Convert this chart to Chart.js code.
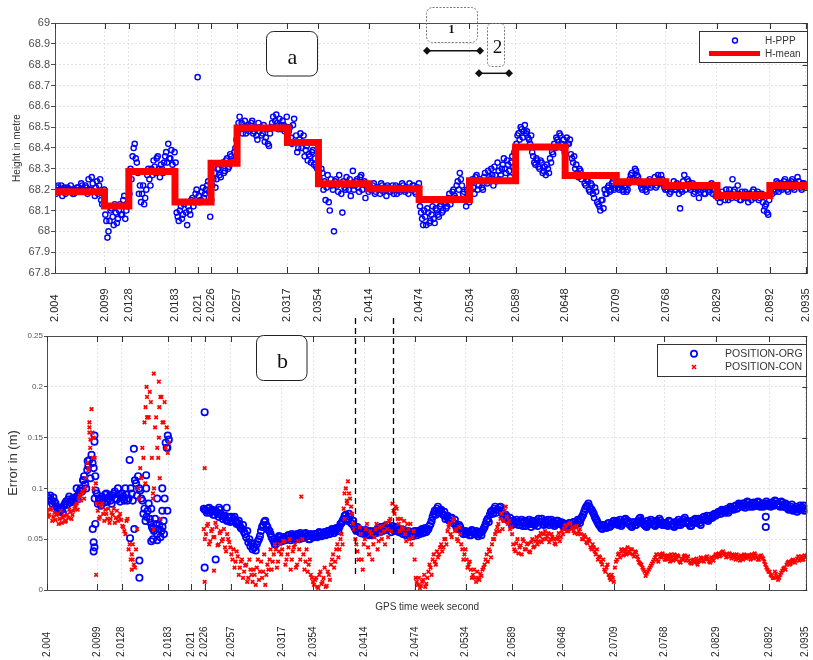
<!DOCTYPE html>
<html>
<head>
<meta charset="utf-8">
<script src="https://cdn.jsdelivr.net/npm/chart.js@4.4.0/dist/chart.umd.min.js"></script>
<style>
  html, body { margin: 0; padding: 0; background: #fff; overflow: hidden; }
  #top { position: absolute; left: 0; top: 0; }
  #bottom { position: absolute; left: 0; top: 310px; }
</style>
</head>
<body>
<canvas id="top" width="813" height="330"></canvas>
<canvas id="bottom" width="813" height="350"></canvas>
<script>
// GPS time week second (x1e5); epochs every 0.00025, second pass at the half epochs
const T0 = 2.004, DT = 0.00025;
const xMin = 2.004, xMax = 2.0937;

const xTicks = [2.004, 2.0099, 2.0128, 2.0183, 2.021, 2.0226, 2.0257, 2.0317, 2.0354,
  2.0414, 2.0474, 2.0534, 2.0589, 2.0648, 2.0709, 2.0768, 2.0829, 2.0892, 2.0935];
const xTickLabels = ['2.004', '2.0099', '2.0128', '2.0183', '2.021', '2.0226', '2.0257', '2.0317', '2.0354',
  '2.0414', '2.0474', '2.0534', '2.0589', '2.0648', '2.0709', '2.0768', '2.0829', '2.0892', '2.0935'];

// (a) PPP height, metres
const hPPP = [
  68.2,68.21,68.19,68.22,68.2,68.18,68.21,68.19,68.2,68.18,68.19,68.21,68.2,68.22,68.19,68.21,68.25,68.2,68.23,68.17,68.24,68.22,68.15,68.18,
  68.08,67.97,68.05,68.11,68.03,68.09,68.06,68.13,68.08,68.17,68.1,68.14,
  68.3,68.36,68.42,68.33,68.18,68.14,68.22,68.16,68.27,68.25,68.3,68.34,68.28,68.36,68.26,68.3,68.33,68.38,68.42,68.35,68.32,68.38,
  68.09,68.05,68.12,68.08,68.14,68.03,68.1,68.15,68.12,68.18,68.74,68.14,68.19,68.16,68.2,68.24,68.07,
  68.22,68.28,68.25,68.3,68.26,68.33,68.29,68.35,68.31,68.36,68.33,68.4,
  68.48,68.55,68.52,68.5,68.47,68.51,68.49,68.53,68.48,68.46,68.52,68.5,68.47,68.43,68.49,68.41,68.5,68.55,68.53,68.52,68.54,68.49,68.51,68.5,
  68.44,68.5,68.42,68.54,68.46,68.4,68.47,68.43,68.36,68.41,68.37,68.33,68.39,68.35,68.3,
  68.26,68.3,68.2,68.15,68.27,68.1,68.22,68.0,68.25,68.19,68.23,68.09,68.21,68.26,68.2,68.17,68.29,68.22,68.25,68.19,68.27,68.23,68.16,68.21,
  68.22,68.2,68.23,68.19,68.21,68.18,68.22,68.2,68.17,68.21,68.19,68.22,68.2,68.18,68.21,68.2,68.22,68.19,68.21,68.23,68.2,68.22,68.18,68.21,
  68.12,68.06,68.1,68.03,68.09,68.05,68.12,68.04,68.1,68.07,68.13,68.1,68.14,68.12,68.18,68.15,68.2,68.16,68.24,68.28,68.22,68.19,68.12,68.17,
  68.2,68.25,68.18,68.27,68.22,68.24,68.2,68.28,68.23,68.26,68.3,68.22,68.27,68.33,68.25,68.3,68.35,68.28,68.32,68.26,68.36,68.38,
  68.42,68.47,68.5,68.45,68.51,68.48,68.44,68.46,68.36,68.32,68.34,68.3,68.33,68.29,68.27,68.3,68.35,68.38,68.42,68.45,68.43,68.46,68.4,68.38,
  68.45,68.42,68.37,68.33,68.3,68.28,68.3,68.25,68.27,68.22,68.24,68.19,68.22,68.16,68.19,68.13,68.1,68.15,68.2,68.18,68.22,68.2,68.24,68.21,
  68.23,68.2,68.22,68.19,68.21,68.2,68.25,68.28,68.24,68.29,68.26,68.23,68.2,68.22,68.19,68.24,68.21,68.23,68.26,68.22,68.25,68.27,68.23,68.2,
  68.2,68.18,68.22,68.24,68.2,68.21,68.11,68.19,68.27,68.22,68.24,68.2,68.23,68.19,68.21,68.16,68.2,68.22,68.18,68.21,68.19,68.23,68.2,68.17,
  68.16,68.14,68.19,68.17,68.2,68.15,68.18,68.25,68.2,68.16,68.18,68.15,68.17,68.19,68.16,68.18,68.15,68.2,68.17,68.19,68.16,68.18,68.1,68.13,68.08,
  68.2,68.18,68.22,68.24,68.19,68.23,68.21,68.25,68.2,68.22,68.24,68.21,68.23,68.26,68.22,68.2,68.23,68.21
];
const hPPPhalf = [
  68.18,68.22,68.2,68.17,68.21,68.19,68.2,68.22,68.18,68.2,68.21,68.19,68.23,68.2,68.22,68.18,68.2,68.26,68.19,68.21,68.18,68.25,68.13,68.2,
  68.05,68.0,68.1,68.07,68.13,68.04,68.1,68.08,68.15,68.06,68.12,68.18,
  68.25,68.4,68.35,68.28,68.22,68.18,68.13,68.2,68.3,68.22,68.27,68.31,68.35,68.3,68.32,68.28,68.36,68.33,68.35,68.39,68.29,68.33,
  68.07,68.1,68.06,68.13,68.09,68.12,68.08,68.16,68.14,68.2,68.17,68.15,68.21,68.18,68.22,68.19,68.15,
  68.25,68.21,68.3,68.27,68.32,68.28,68.34,68.3,68.37,68.34,68.38,68.44,
  68.52,68.49,68.47,68.53,68.5,68.48,68.52,68.47,68.5,68.44,68.48,68.46,68.51,68.45,68.42,68.47,68.52,68.5,68.56,68.49,68.51,68.53,68.48,68.55,
  68.48,68.45,68.51,68.43,68.38,68.44,68.4,68.46,68.39,68.34,68.36,68.38,68.32,68.31,68.27,
  68.23,68.28,68.24,68.21,68.14,68.25,68.2,68.24,68.22,68.27,68.18,68.24,68.2,68.23,68.25,68.22,68.2,68.24,68.21,68.26,68.2,68.24,68.22,68.19,
  68.2,68.22,68.18,68.21,68.2,68.23,68.19,68.21,68.22,68.19,68.2,68.18,68.22,68.21,68.19,68.23,68.2,68.21,68.18,68.2,68.22,68.19,68.21,68.23,
  68.09,68.03,68.07,68.11,68.04,68.08,68.06,68.11,68.08,68.12,68.09,68.15,68.11,68.16,68.13,68.19,68.17,68.22,68.2,68.25,68.18,68.15,68.2,68.14,
  68.23,68.21,68.26,68.2,68.25,68.21,68.26,68.24,68.29,68.25,68.27,68.31,68.24,68.29,68.27,68.32,68.3,68.34,68.29,68.33,68.31,68.4,
  68.46,68.44,68.49,68.48,68.47,68.45,68.42,68.38,68.33,68.35,68.31,68.34,68.28,68.31,68.32,68.28,68.33,68.37,68.4,68.44,68.47,68.42,68.44,68.41,
  68.42,68.44,68.35,68.36,68.32,68.26,68.29,68.27,68.23,68.25,68.2,68.23,68.18,68.21,68.14,68.12,68.15,68.11,68.18,68.21,68.19,68.23,68.2,68.22,
  68.21,68.23,68.2,68.22,68.19,68.23,68.27,68.25,68.3,68.27,68.24,68.21,68.23,68.2,68.22,68.25,68.22,68.24,68.21,68.27,68.23,68.25,68.21,68.22,
  68.22,68.19,68.21,68.2,68.23,68.18,68.2,68.24,68.2,68.25,68.21,68.22,68.18,68.22,68.2,68.19,68.21,68.18,68.22,68.2,68.21,68.18,68.22,68.19,
  68.18,68.16,68.17,68.15,68.18,68.2,68.16,68.19,68.17,68.22,68.15,68.19,68.16,68.18,68.14,68.17,68.19,68.16,68.18,68.15,68.17,68.14,68.12,68.09,68.15,
  68.22,68.2,68.19,68.23,68.21,68.2,68.24,68.22,68.19,68.23,68.25,68.2,68.22,68.24,68.21,68.23,68.22
];

// H-mean: start of each averaging window and its mean height
const meanStart = [2.004, 2.0099, 2.0128, 2.0183, 2.0226, 2.0257, 2.0317, 2.0354, 2.0414,
  2.0474, 2.0534, 2.0589, 2.0648, 2.0709, 2.0768, 2.0829, 2.0892];
const meanValue = [68.19, 68.122, 68.287, 68.141, 68.327, 68.496, 68.427, 68.228, 68.204,
  68.153, 68.243, 68.405, 68.268, 68.238, 68.22, 68.172, 68.22];

// (b) position error, metres (null = no solution)
const orgErr = [
  0.092,0.09,0.088,0.091,0.085,0.08,0.077,0.079,0.083,0.087,0.089,0.086,0.09,0.088,0.092,0.095,0.1,0.108,0.104,0.118,0.128,0.133,0.12,0.098,
  0.085,0.088,0.092,0.086,0.095,0.09,0.088,0.093,0.097,0.089,0.094,0.091,
  0.092,0.1,0.088,0.128,0.095,0.139,0.105,0.112,0.098,0.088,0.08,0.072,0.085,0.066,0.06,0.07,0.055,0.064,0.058,0.068,0.145,0.152,
  null,null,null,null,null,null,null,null,null,null,null,null,null,null,null,null,
  0.08,0.078,0.08,0.076,0.079,0.074,0.077,0.072,0.075,0.07,0.073,0.068,0.071,
  0.072,0.07,0.068,0.066,0.063,0.06,0.057,0.052,0.047,0.043,0.04,0.042,0.045,0.05,0.058,0.064,0.068,0.062,0.058,0.052,0.048,0.045,0.05,0.052,
  0.048,0.052,0.05,0.054,0.049,0.053,0.051,0.055,0.05,0.054,0.052,0.056,0.053,0.05,0.054,
  0.052,0.055,0.053,0.056,0.054,0.057,0.055,0.058,0.056,0.059,0.058,0.06,0.062,0.066,0.07,0.074,0.068,0.072,0.065,0.062,0.058,0.06,0.056,0.058,
  0.056,0.058,0.054,0.057,0.055,0.058,0.06,0.057,0.062,0.059,0.061,0.064,0.06,0.063,0.058,0.061,0.057,0.059,0.055,0.058,0.056,0.054,0.057,0.055,
  0.056,0.058,0.055,0.06,0.058,0.057,0.06,0.065,0.072,0.078,0.08,0.076,0.079,0.074,0.07,0.073,0.068,0.071,0.066,0.063,0.06,0.062,0.058,0.056,
  0.055,0.057,0.054,0.058,0.056,0.055,0.057,0.054,0.06,0.065,0.07,0.074,0.078,0.08,0.076,0.079,0.082,0.075,0.07,0.072,0.068,0.066,
  0.068,0.065,0.067,0.064,0.069,0.066,0.063,0.067,0.065,0.068,0.064,0.066,0.07,0.067,0.065,0.068,0.066,0.064,0.069,0.067,0.065,0.068,0.066,0.064,
  0.062,0.065,0.063,0.066,0.064,0.067,0.065,0.068,0.07,0.074,0.08,0.083,0.082,0.079,0.075,0.07,0.066,0.063,0.06,0.064,0.061,0.066,0.063,0.067,
  0.065,0.068,0.066,0.063,0.067,0.07,0.068,0.065,0.062,0.066,0.064,0.068,0.071,0.067,0.064,0.062,0.066,0.069,0.065,0.063,0.067,0.07,0.066,0.064,
  0.066,0.063,0.067,0.065,0.062,0.066,0.069,0.064,0.067,0.071,0.068,0.065,0.063,0.067,0.07,0.068,0.066,0.069,0.072,0.07,0.068,0.073,0.071,0.075,
  0.074,0.077,0.075,0.078,0.076,0.08,0.078,0.081,0.079,0.083,0.081,0.084,0.082,0.085,0.083,0.086,0.084,0.082,0.085,0.083,0.086,0.084,0.082,0.085,0.083,
  0.084,0.086,0.083,0.087,0.085,0.082,0.086,0.084,0.081,0.079,0.082,0.078,0.08,0.077,0.081,0.079,0.083,0.08
];
const orgErrHalf = [
  0.088,0.093,0.085,0.087,0.082,0.078,0.081,0.076,0.085,0.084,0.092,0.088,0.087,0.091,0.089,0.098,0.097,0.112,0.1,0.122,0.11,0.125,0.09,0.095,
  0.09,0.083,0.089,0.094,0.087,0.092,0.085,0.095,0.09,0.1,0.087,0.095,
  0.088,0.094,0.09,0.1,0.088,0.108,0.093,0.1,0.09,0.075,0.068,0.078,0.07,0.062,0.058,0.065,0.06,0.052,0.062,0.09,0.14,0.148,
  null,null,null,null,null,null,null,null,null,null,null,null,null,null,null,null,
  0.079,0.076,0.081,0.078,0.074,0.078,0.075,0.079,0.073,0.072,0.069,0.072,0.067,
  0.068,0.072,0.065,0.068,0.061,0.064,0.055,0.058,0.05,0.046,0.042,0.039,0.048,0.053,0.062,0.067,0.064,0.059,0.055,0.05,0.045,0.048,0.053,0.049,
  0.051,0.049,0.053,0.051,0.055,0.05,0.054,0.052,0.056,0.051,0.055,0.053,0.05,0.055,0.052,
  0.055,0.052,0.057,0.053,0.056,0.054,0.058,0.055,0.06,0.056,0.061,0.058,0.065,0.068,0.073,0.07,0.075,0.066,0.068,0.06,0.062,0.057,0.059,0.055,
  0.059,0.055,0.058,0.054,0.058,0.056,0.059,0.062,0.058,0.063,0.059,0.061,0.057,0.06,0.062,0.058,0.06,0.056,0.059,0.054,0.058,0.056,0.053,0.058,
  0.054,0.057,0.059,0.056,0.061,0.059,0.063,0.068,0.075,0.074,0.082,0.078,0.075,0.077,0.072,0.069,0.071,0.066,0.069,0.061,0.064,0.059,0.055,0.058,
  0.057,0.054,0.059,0.055,0.058,0.053,0.056,0.058,0.062,0.068,0.067,0.077,0.075,0.082,0.079,0.081,0.077,0.072,0.074,0.069,0.071,0.064,
  0.066,0.069,0.064,0.067,0.063,0.068,0.065,0.069,0.062,0.066,0.068,0.063,0.067,0.07,0.064,0.066,0.069,0.067,0.065,0.063,0.068,0.065,0.067,0.066,
  0.064,0.061,0.066,0.063,0.067,0.064,0.069,0.066,0.072,0.077,0.082,0.085,0.08,0.077,0.072,0.068,0.064,0.061,0.064,0.062,0.065,0.062,0.065,0.068,
  0.067,0.064,0.069,0.065,0.069,0.067,0.065,0.063,0.067,0.064,0.067,0.07,0.068,0.065,0.063,0.068,0.065,0.067,0.064,0.068,0.065,0.068,0.064,0.066,
  0.064,0.068,0.064,0.063,0.067,0.064,0.067,0.066,0.069,0.066,0.066,0.063,0.068,0.069,0.066,0.07,0.064,0.071,0.069,0.073,0.07,0.071,0.074,0.073,
  0.076,0.075,0.079,0.077,0.078,0.076,0.082,0.08,0.082,0.08,0.085,0.083,0.085,0.081,0.087,0.082,0.085,0.086,0.083,0.087,0.082,0.085,0.083,0.087,0.085,
  0.082,0.085,0.088,0.084,0.083,0.087,0.082,0.085,0.083,0.08,0.084,0.079,0.082,0.079,0.083,0.081,0.078
];
const conErr = [
  0.078,0.074,0.08,0.072,0.069,0.075,0.07,0.066,0.073,0.068,0.071,0.077,0.074,0.08,0.085,0.09,0.088,0.097,0.1,0.125,0.16,0.178,0.15,0.105,
  0.078,0.072,0.085,0.068,0.075,0.08,0.07,0.074,0.066,0.078,0.072,0.069,
  0.062,0.055,0.07,0.045,0.035,0.025,0.04,0.1,0.12,0.14,0.165,0.2,0.17,0.185,0.09,0.16,0.14,0.18,0.19,0.165,0.14,0.135,
  null,null,null,null,null,null,null,null,null,null,null,null,null,null,null,null,
  0.06,0.055,0.065,0.048,0.06,0.052,0.062,0.045,0.058,0.05,0.042,0.055,0.047,
  0.035,0.04,0.028,0.033,0.022,0.03,0.018,0.025,0.012,0.02,0.008,0.015,0.022,0.01,0.028,0.018,0.005,0.025,0.03,0.02,0.035,0.04,0.028,0.045,
  0.04,0.048,0.03,0.042,0.02,0.038,0.045,0.025,0.04,0.092,0.035,0.028,0.018,0.03,0.012,
  0.005,0.012,0.002,0.018,0.008,0.022,0.004,0.015,0.025,0.035,0.028,0.045,0.04,0.055,0.08,0.1,0.107,0.09,0.075,0.06,0.045,0.03,0.055,0.02,
  0.05,0.065,0.035,0.055,0.045,0.06,0.04,0.062,0.05,0.058,0.066,0.052,0.07,0.085,0.075,0.08,0.065,0.07,0.06,0.055,0.065,0.05,0.045,0.058,
  0.012,0.005,0.002,0.008,0.015,0.006,0.018,0.022,0.03,0.028,0.038,0.035,0.045,0.042,0.05,0.058,0.065,0.052,0.07,0.06,0.048,0.055,0.04,0.035,
  0.03,0.025,0.02,0.015,0.012,0.018,0.01,0.014,0.022,0.03,0.028,0.038,0.045,0.05,0.058,0.065,0.07,0.06,0.078,0.072,0.068,0.062,
  0.045,0.038,0.05,0.042,0.035,0.048,0.04,0.046,0.037,0.05,0.043,0.052,0.048,0.056,0.05,0.058,0.053,0.047,0.055,0.05,0.045,0.052,0.048,0.058,
  0.06,0.064,0.058,0.066,0.062,0.056,0.063,0.058,0.055,0.05,0.052,0.046,0.048,0.04,0.042,0.035,0.03,0.032,0.025,0.02,0.022,0.015,0.01,0.012,
  0.022,0.03,0.036,0.04,0.034,0.038,0.042,0.036,0.04,0.033,0.037,0.03,0.026,0.022,0.018,0.016,0.02,0.024,0.028,0.032,0.03,0.035,0.032,0.034,
  0.03,0.034,0.028,0.032,0.035,0.03,0.033,0.027,0.03,0.034,0.031,0.029,0.026,0.03,0.028,0.025,0.029,0.031,0.028,0.032,0.03,0.027,0.031,0.033,
  0.032,0.036,0.034,0.038,0.035,0.033,0.036,0.031,0.034,0.03,0.033,0.029,0.032,0.035,0.031,0.034,0.03,0.033,0.036,0.032,0.03,0.034,0.031,0.025,0.02,
  0.018,0.014,0.012,0.016,0.01,0.015,0.019,0.022,0.025,0.028,0.026,0.03,0.027,0.031,0.029,0.033,0.03,0.032
];
const conErrHalf = [
  0.072,0.079,0.068,0.076,0.074,0.065,0.078,0.071,0.067,0.074,0.079,0.07,0.078,0.083,0.079,0.093,0.095,0.09,0.11,0.118,0.148,0.155,0.13,0.085,
  0.07,0.082,0.075,0.079,0.07,0.066,0.076,0.08,0.071,0.068,0.075,0.063,
  0.058,0.068,0.04,0.03,0.045,0.022,0.06,0.09,0.11,0.13,0.18,0.17,0.195,0.13,0.1,0.17,0.13,0.19,0.165,0.185,0.16,0.145,
  null,null,null,null,null,null,null,null,null,null,null,null,null,null,null,null,
  0.05,0.063,0.045,0.058,0.052,0.066,0.044,0.056,0.048,0.06,0.038,0.05,0.042,
  0.03,0.022,0.038,0.015,0.028,0.012,0.024,0.008,0.03,0.015,0.02,0.005,0.03,0.018,0.012,0.035,0.015,0.02,0.04,0.028,0.045,0.022,0.038,0.035,
  0.048,0.025,0.035,0.05,0.03,0.042,0.022,0.048,0.03,0.05,0.02,0.04,0.025,0.015,0.008,
  0.01,0.003,0.015,0.006,0.012,0.003,0.018,0.01,0.03,0.022,0.04,0.032,0.05,0.045,0.07,0.088,0.095,0.082,0.065,0.05,0.038,0.062,0.03,0.045,
  0.06,0.042,0.058,0.03,0.052,0.065,0.048,0.055,0.063,0.045,0.06,0.068,0.058,0.078,0.082,0.07,0.058,0.062,0.068,0.048,0.06,0.065,0.052,0.03,
  0.008,0.012,0.004,0.01,0.003,0.012,0.025,0.015,0.035,0.025,0.032,0.042,0.038,0.05,0.045,0.062,0.055,0.068,0.058,0.05,0.062,0.045,0.03,0.04,
  0.022,0.028,0.012,0.02,0.008,0.012,0.016,0.02,0.025,0.035,0.04,0.032,0.05,0.055,0.062,0.058,0.075,0.068,0.082,0.065,0.06,0.055,
  0.04,0.046,0.036,0.044,0.05,0.04,0.045,0.038,0.047,0.042,0.048,0.045,0.053,0.047,0.055,0.05,0.056,0.05,0.052,0.046,0.05,0.056,0.052,0.055,
  0.063,0.058,0.065,0.06,0.058,0.062,0.055,0.06,0.05,0.054,0.047,0.05,0.042,0.045,0.038,0.04,0.033,0.028,0.03,0.018,0.025,0.012,0.015,0.008,
  0.028,0.035,0.032,0.038,0.04,0.035,0.038,0.04,0.035,0.038,0.033,0.027,0.025,0.02,0.014,0.018,0.022,0.026,0.03,0.035,0.028,0.033,0.036,0.03,
  0.033,0.031,0.035,0.029,0.032,0.034,0.028,0.031,0.033,0.029,0.033,0.027,0.029,0.027,0.031,0.028,0.032,0.029,0.031,0.033,0.028,0.032,0.029,0.035,
  0.035,0.033,0.037,0.036,0.032,0.035,0.033,0.035,0.032,0.035,0.031,0.034,0.03,0.033,0.034,0.032,0.035,0.031,0.034,0.03,0.033,0.032,0.028,0.022,0.018,
  0.015,0.012,0.018,0.013,0.012,0.017,0.021,0.02,0.027,0.025,0.029,0.028,0.029,0.033,0.031,0.03,0.034
];
// scattered extra fixes at busy epochs [time, error]
const orgExtra = [[2.0096,0.152],[2.0096,0.146],[2.0095,0.047],[2.0096,0.042],[2.0095,0.038],[2.0094,0.06],
  [2.0097,0.065],[2.0097,0.112],[2.0088,0.127],[2.0083,0.108],[2.0075,0.1],[2.0138,0.051],[2.0143,0.06],
  [2.0149,0.029],[2.0149,0.012],[2.0157,0.1],[2.0157,0.113],[2.0163,0.048],[2.0165,0.05],[2.0163,0.08],
  [2.017,0.049],[2.017,0.09],[2.0176,0.1],[2.0176,0.078],[2.0178,0.055],[2.0182,0.14],[2.0182,0.078],
  [2.0226,0.175],[2.0226,0.022],[2.0239,0.03],[2.0243,0.081],[2.0252,0.081],[2.0888,0.072],[2.0888,0.062]];
const conExtra = [[2.0098,0.015],[2.009,0.165],[2.009,0.155],[2.0091,0.14],[2.0089,0.12],[2.0094,0.13],
  [2.0095,0.1],[2.014,0.02],[2.0141,0.03],[2.0158,0.19],[2.0158,0.17],[2.0156,0.105],[2.0166,0.213],
  [2.0166,0.06],[2.0165,0.095],[2.0172,0.205],[2.0172,0.15],[2.0173,0.11],[2.0174,0.07],[2.0226,0.12],
  [2.0226,0.008],[2.0237,0.019],[2.0391,0.095],[2.0394,0.085]];

// the two dashed marks in (b)
const markTimes = [2.04036, 2.04478];

const SANS = '"Liberation Sans", Arial, sans-serif';
const SERIF = '"Liberation Serif", "Times New Roman", serif';
Chart.defaults.font.family = SANS;

const toPoints = (arr, shift) => arr
  .map((v, i) => v === null ? null : { x: +(T0 + (i + shift) * DT).toFixed(6), y: v })
  .filter(p => p);
const pairs = arr => arr.map(p => ({ x: p[0], y: p[1] }));

function line(ctx, x1, y1, x2, y2) {
  ctx.beginPath(); ctx.moveTo(x1, y1); ctx.lineTo(x2, y2); ctx.stroke();
}
function rrect(ctx, x, y, w, h, r) {
  ctx.beginPath();
  ctx.moveTo(x + r, y); ctx.lineTo(x + w - r, y); ctx.arcTo(x + w, y, x + w, y + r, r);
  ctx.lineTo(x + w, y + h - r); ctx.arcTo(x + w, y + h, x + w - r, y + h, r);
  ctx.lineTo(x + r, y + h); ctx.arcTo(x, y + h, x, y + h - r, r);
  ctx.lineTo(x, y + r); ctx.arcTo(x, y, x + r, y, r);
  ctx.closePath();
}
function diamond(ctx, x, y, s) {
  ctx.beginPath(); ctx.moveTo(x - s, y); ctx.lineTo(x, y - s); ctx.lineTo(x + s, y); ctx.lineTo(x, y + s);
  ctx.closePath(); ctx.fill();
}

// box, inward ticks, rotated tick labels, extras
const framePlugin = {
  id: 'frame',
  afterDraw(chart, args, opts) {
    const { ctx, chartArea: a, scales } = chart;
    const sx = scales.x, sy = scales.y;
    ctx.save();
    ctx.strokeStyle = '#4d4d4d';
    ctx.lineWidth = 1;
    ctx.strokeRect(Math.round(a.left) + 0.5, Math.round(a.top) + 0.5,
      Math.round(a.right - a.left) - 1, Math.round(a.bottom - a.top));
    ctx.strokeStyle = '#333';
    xTicks.forEach(v => {
      const px = Math.round(sx.getPixelForValue(v)) + 0.5;
      line(ctx, px, a.bottom, px, a.bottom - 6);
      line(ctx, px, a.top, px, a.top + 6);
    });
    sy.ticks.forEach(t => {
      const py = Math.round(sy.getPixelForValue(t.value)) + 0.5;
      line(ctx, a.right, py, a.right - 5, py);
    });
    ctx.fillStyle = '#262626';
    ctx.font = opts.labelSize + 'px ' + SANS;
    ctx.textAlign = 'left';
    ctx.textBaseline = 'middle';
    xTicks.forEach((v, i) => {
      ctx.save();
      ctx.translate(sx.getPixelForValue(v), opts.labelY);
      ctx.rotate(-Math.PI / 2);
      ctx.fillText(xTickLabels[i], 0, 0);
      ctx.restore();
    });
    if (opts.extras) opts.extras(ctx, chart);
    ctx.restore();
  }
};

function topExtras(ctx) {
  // legend
  ctx.fillStyle = '#fff';
  ctx.fillRect(699.5, 31.5, 108, 31);
  ctx.strokeStyle = '#333'; ctx.lineWidth = 1; ctx.setLineDash([]);
  ctx.strokeRect(699.5, 31.5, 108, 31);
  ctx.strokeStyle = '#0000ff'; ctx.lineWidth = 1.4;
  ctx.beginPath(); ctx.arc(735, 40.5, 2.5, 0, Math.PI * 2); ctx.stroke();
  ctx.strokeStyle = '#ff0000'; ctx.lineWidth = 5;
  line(ctx, 709, 53.5, 760, 53.5);
  ctx.fillStyle = '#333'; ctx.font = '10px ' + SANS; ctx.textAlign = 'left'; ctx.textBaseline = 'middle';
  ctx.fillText('H-PPP', 765, 41);
  ctx.fillText('H-mean', 765, 54);

  // panel label a
  ctx.lineWidth = 1; ctx.strokeStyle = '#222'; ctx.fillStyle = '#fff';
  rrect(ctx, 266.5, 31.5, 51, 44.5, 7); ctx.fill(); ctx.stroke();
  ctx.fillStyle = '#111'; ctx.font = '22px ' + SERIF; ctx.textAlign = 'center'; ctx.textBaseline = 'alphabetic';
  ctx.fillText('a', 292.5, 64);

  // window boxes 1 and 2
  ctx.setLineDash([2, 1.5]); ctx.strokeStyle = '#777';
  rrect(ctx, 426.5, 7.5, 51, 35, 6); ctx.stroke();
  rrect(ctx, 487.5, 23.5, 17, 43, 4); ctx.stroke();
  ctx.setLineDash([]);
  ctx.fillStyle = '#111';
  ctx.font = 'bold 12px ' + SERIF; ctx.fillText('1', 451.5, 32.5);
  ctx.font = '19px ' + SERIF; ctx.fillText('2', 497.5, 52.5);
  ctx.strokeStyle = '#111'; ctx.lineWidth = 1.5;
  line(ctx, 427, 50.7, 480, 50.7);
  line(ctx, 479, 73.3, 509, 73.3);
  diamond(ctx, 427, 50.7, 4); diamond(ctx, 480, 50.7, 4);
  diamond(ctx, 479, 73.3, 4); diamond(ctx, 509, 73.3, 4);
}

function bottomExtras(ctx, chart) {
  const sx = chart.scales.x, a = chart.chartArea;
  // dashed marks
  ctx.strokeStyle = '#000'; ctx.lineWidth = 1.3; ctx.setLineDash([6, 4]);
  markTimes.forEach(t => {
    const px = Math.round(sx.getPixelForValue(t)) + 0.5;
    line(ctx, px, 8, px, 265);
  });
  ctx.setLineDash([]);

  // legend
  ctx.fillStyle = '#fff';
  ctx.fillRect(657.5, 34.5, 149, 32);
  ctx.strokeStyle = '#333'; ctx.lineWidth = 1;
  ctx.strokeRect(657.5, 34.5, 149, 32);
  ctx.strokeStyle = '#0000ff'; ctx.lineWidth = 1.7;
  ctx.beginPath(); ctx.arc(694, 43.7, 3.1, 0, Math.PI * 2); ctx.stroke();
  ctx.strokeStyle = '#ff0000'; ctx.lineWidth = 1.6;
  line(ctx, 692, 55, 696, 59); line(ctx, 696, 55, 692, 59);
  ctx.fillStyle = '#333'; ctx.font = '10.5px ' + SANS; ctx.textAlign = 'left'; ctx.textBaseline = 'middle';
  ctx.fillText('POSITION-ORG', 725, 44);
  ctx.fillText('POSITION-CON', 725, 57);

  // panel label b
  ctx.lineWidth = 1; ctx.strokeStyle = '#222'; ctx.fillStyle = '#fff';
  rrect(ctx, 256.5, 25.5, 50.5, 45, 7); ctx.fill(); ctx.stroke();
  ctx.fillStyle = '#111'; ctx.font = '22px ' + SERIF; ctx.textAlign = 'center'; ctx.textBaseline = 'alphabetic';
  ctx.fillText('b', 282.5, 58);

  // x axis title sits between the axis and the tick labels
  ctx.fillStyle = '#333'; ctx.font = '10px ' + SANS; ctx.textBaseline = 'middle';
  ctx.fillText('GPS time week second', (a.left + a.right) / 2, 297);
}

function xScale(height) {
  return {
    type: 'linear', min: xMin, max: xMax,
    afterBuildTicks: s => { s.ticks = xTicks.map(v => ({ value: v })); },
    afterFit: s => { s.height = height; },
    ticks: { display: false },
    grid: { color: '#e3e3e3', drawTicks: false },
    border: { display: false, dash: [2, 2] }
  };
}

new Chart(document.getElementById('top'), {
  type: 'scatter',
  data: {
    datasets: [
      {
        label: 'H-mean',
        data: meanStart.map((t, i) => ({ x: t, y: meanValue[i] }))
          .concat([{ x: xMax, y: meanValue[meanValue.length - 1] }]),
        showLine: true, stepped: true,
        borderColor: '#ff0000', borderWidth: 7, borderJoinStyle: 'miter',
        pointRadius: 0, order: 0
      },
      {
        label: 'H-PPP',
        data: toPoints(hPPP, 0).concat(toPoints(hPPPhalf, 0.5)),
        pointStyle: 'circle', pointRadius: 2.6, pointBorderWidth: 1.4,
        borderColor: '#0000ff', backgroundColor: 'rgba(255,255,255,0)', order: 1
      }
    ]
  },
  options: {
    responsive: false, animation: false, devicePixelRatio: 1,
    layout: { padding: { top: 23, right: 1, bottom: 0, left: 0 } },
    plugins: {
      legend: { display: false }, tooltip: { enabled: false },
      frame: { labelY: 322, labelSize: 11, extras: topExtras }
    },
    scales: {
      x: xScale(57),
      y: {
        min: 67.8, max: 69,
        afterFit: s => { s.width = 55; },
        ticks: { stepSize: 0.1, padding: 1, color: '#4d4d4d', font: { size: 11 },
          callback: v => String(+v.toFixed(1)) },
        grid: { color: '#e3e3e3', drawTicks: true, tickLength: 4, tickColor: '#4d4d4d' },
        border: { display: false, dash: [2, 2] },
        title: { display: true, text: 'Height in metre', color: '#333', font: { size: 10 },
          padding: { top: 11, bottom: 0 } }
      }
    }
  },
  plugins: [framePlugin]
});

new Chart(document.getElementById('bottom'), {
  type: 'scatter',
  data: {
    datasets: [
      {
        label: 'POSITION-CON',
        data: toPoints(conErr, 0).concat(toPoints(conErrHalf, 0.5), pairs(conExtra)),
        pointStyle: 'crossRot', pointRadius: 2.5, pointBorderWidth: 1.7,
        borderColor: '#ff0000', backgroundColor: '#ff0000', order: 0
      },
      {
        label: 'POSITION-ORG',
        data: toPoints(orgErr, 0).concat(toPoints(orgErrHalf, 0.5), pairs(orgExtra)),
        pointStyle: 'circle', pointRadius: 3.2, pointBorderWidth: 1.7,
        borderColor: '#0000ff', backgroundColor: 'rgba(255,255,255,0)', order: 1
      }
    ]
  },
  options: {
    responsive: false, animation: false, devicePixelRatio: 1,
    layout: { padding: { top: 26, right: 1, bottom: 0, left: 0 } },
    plugins: {
      legend: { display: false }, tooltip: { enabled: false },
      frame: { labelY: 347, labelSize: 10, extras: bottomExtras }
    },
    scales: {
      x: xScale(70),
      y: {
        min: 0, max: 0.25,
        afterFit: s => { s.width = 47; },
        ticks: { stepSize: 0.05, padding: 1, color: '#555', font: { size: 8 },
          callback: v => String(+v.toFixed(2)) },
        grid: { color: '#e3e3e3', drawTicks: true, tickLength: 3, tickColor: '#4d4d4d' },
        border: { display: false, dash: [2, 2] },
        title: { display: true, text: 'Error in (m)', color: '#333', font: { size: 13 },
          padding: { top: 5.5, bottom: 0 } }
      }
    }
  },
  plugins: [framePlugin]
});
</script>
</body>
</html>
